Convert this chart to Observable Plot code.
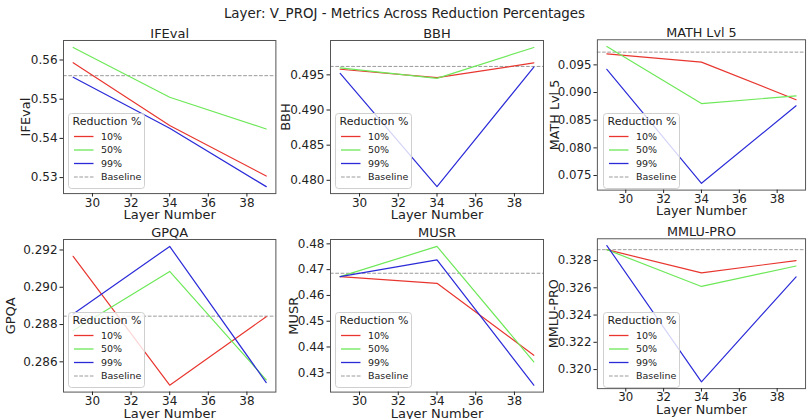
<!DOCTYPE html>
<html><head><meta charset="utf-8">
<script src="https://cdn.jsdelivr.net/npm/d3@7"></script>
<script src="https://cdn.jsdelivr.net/npm/@observablehq/plot@0.6"></script>
<style>
body{margin:0;background:#fff;font-family:"DejaVu Sans",sans-serif;}
#root{position:relative;width:809px;height:419px;overflow:hidden;background:#fff;}
.panel{position:absolute;}
#title{position:absolute;left:0;width:809px;top:5px;line-height:18px;text-align:center;font-size:13.4px;color:#222;}
.legend{position:absolute;}
</style></head><body>
<div id="root"><div id="title">Layer: V_PROJ - Metrics Across Reduction Percentages</div></div>
<script>
const layers = [29, 34, 39];
const reductions = ["10%", "50%", "99%"];
const seriesColors = ["#e8362f", "#6de858", "#2a2ad8"];
const metricNames = ["IFEval", "BBH", "MATH Lvl 5", "GPQA", "MUSR", "MMLU-PRO"];

// values per metric: rows = reductions (10%, 50%, 99%), columns = layers
const ifevalValues = [[0.5593, 0.5433, 0.5304], [0.5632, 0.5505, 0.5424], [0.5556, 0.5426, 0.5277]];
const bbhValues    = [[0.4958, 0.4946, 0.4967], [0.4960, 0.4945, 0.4989], [0.4952, 0.4791, 0.4961]];
const mathValues   = [[0.0970, 0.0955, 0.0887], [0.0983, 0.0880, 0.0894], [0.0942, 0.0736, 0.0876]];
const gpqaValues   = [[0.29166, 0.28475, 0.28842], [0.28768, 0.29085, 0.28503], [0.28856, 0.29219, 0.28489]];
const musrValues   = [[0.4673, 0.4647, 0.4368], [0.4673, 0.4790, 0.4342], [0.4673, 0.4738, 0.4252]];
const mmluValues   = [[0.3288, 0.3271, 0.3280], [0.3288, 0.3261, 0.3276], [0.3291, 0.3191, 0.3268]];
const baselineValues = [0.5560, 0.4962, 0.0973, 0.28845, 0.4686, 0.3288];

const xTicks = [30, 32, 34, 36, 38];
const yTicksIFEval = [0.53, 0.54, 0.55, 0.56];
const yTicksBBH = [0.480, 0.485, 0.490, 0.495];
const yTicksMATH = [0.075, 0.080, 0.085, 0.090, 0.095];
const yTicksGPQA = [0.286, 0.288, 0.290, 0.292];
const yTicksMUSR = [0.43, 0.44, 0.45, 0.46, 0.47, 0.48];
const yTicksMMLU = [0.320, 0.322, 0.324, 0.326, 0.328];
const yTickFormats = [".2f", ".3f", ".3f", ".3f", ".2f", ".3f"];
const legendLabels = ["10%", "50%", "99%", "Baseline"];

const allValues = [ifevalValues, bbhValues, mathValues, gpqaValues, musrValues, mmluValues];
const allYTicks = [yTicksIFEval, yTicksBBH, yTicksMATH, yTicksGPQA, yTicksMUSR, yTicksMMLU];

// layout (pixels)
const colLeft = [63, 330, 598], colRight = [275.4, 543, 810];
const rowTop = [39.5, 238.7], rowBottom = [192.6, 391.3];
const yLabelOffset = [38, 45, 43, 53, 37, 44];
const ML = 62, MR = 4, MT = 40, MB = 28;

const root = document.getElementById("root");

metricNames.forEach((name, i) => {
  const col = i % 3, row = Math.floor(i / 3);
  const fl = colLeft[col], fr = colRight[col], ft = rowTop[row], fb = rowBottom[row];
  const vals = allValues[i];
  const rows = [];
  reductions.forEach((r, j) => layers.forEach((l, k) => rows.push({reduction: r, layer: l, value: vals[j][k]})));
  const ext = d3.extent(vals.flat().concat([baselineValues[i]]));
  const pad = (ext[1] - ext[0]) * 0.05;
  const xPad = (layers[layers.length - 1] - layers[0]) * 0.05;

  const chart = Plot.plot({
    width: ML + (fr - fl) + MR,
    height: MT + (fb - ft) + MB,
    marginLeft: ML, marginRight: MR, marginTop: MT, marginBottom: MB,
    style: {background: "transparent", fontFamily: "DejaVu Sans", fontSize: "12px", color: "#222", overflow: "visible"},
    x: {domain: [layers[0] - xPad, layers[layers.length - 1] + xPad]},
    y: {domain: [ext[0] - pad, ext[1] + pad]},
    color: {domain: reductions, range: seriesColors},
    marks: [
      Plot.ruleY([baselineValues[i]], {stroke: "#9a9a9a", strokeDasharray: "3.7,1.6", strokeWidth: 1}),
      Plot.line(rows, {x: "layer", y: "value", z: "reduction", stroke: "reduction", strokeWidth: 1.2}),
      Plot.frame({stroke: "#555", strokeWidth: 1}),
      Plot.axisX({ticks: xTicks, tickSize: 3.5, tickPadding: 1, fontSize: 12, label: null, tickFormat: d => String(d)}),
      Plot.axisY({ticks: allYTicks[i], tickSize: 3.5, tickPadding: 2.5, fontSize: 12, label: null, tickFormat: d3.format(yTickFormats[i])}),
      Plot.text([name], {text: d => d, frameAnchor: "top", dy: -7, lineAnchor: "middle", fontSize: 13, fill: "#222"}),
      Plot.text(["Layer Number"], {text: d => d, frameAnchor: "bottom", dy: 21.5, lineAnchor: "middle", fontSize: 13, fill: "#222"}),
      Plot.text([name], {text: d => d, frameAnchor: "left", textAnchor: "middle", dx: -yLabelOffset[i], rotate: -90, lineAnchor: "middle", fontSize: 13, fill: "#222"})
    ]
  });
  const wrap = document.createElement("div");
  wrap.className = "panel";
  wrap.style.left = (fl - ML) + "px";
  wrap.style.top = (ft - MT) + "px";
  wrap.appendChild(chart);
  root.appendChild(wrap);
});

// legends (drawn on top)
metricNames.forEach((name, i) => {
  const col = i % 3, row = Math.floor(i / 3);
  const fl = colLeft[col], fb = rowBottom[row];
  const LW = 77, LH = 76;
  const div = document.createElement("div");
  div.className = "legend";
  div.style.left = (fl + 4.5) + "px";
  div.style.top = (fb - 3.5 - LH) + "px";
  const svg = d3.create("svg").attr("width", LW).attr("height", LH)
    .style("font-family", "DejaVu Sans").style("display", "block");
  svg.append("rect").attr("x", 0.5).attr("y", 0.5).attr("width", LW - 1).attr("height", LH - 1)
    .attr("rx", 3).attr("fill", "white").attr("fill-opacity", 0.8).attr("stroke", "#cfcfcf");
  svg.append("text").attr("x", 4.5).attr("y", 8.5).attr("dy", "0.35em")
    .attr("font-size", 11).attr("fill", "#222").text("Reduction %");
  legendLabels.forEach((lab, j) => {
    const y = 23.5 + j * 13.5;
    const isBase = j === 3;
    svg.append("line").attr("x1", 6).attr("x2", 25.5).attr("y1", y).attr("y2", y)
      .attr("stroke", isBase ? "#9a9a9a" : seriesColors[j])
      .attr("stroke-width", isBase ? 1 : 1.3)
      .attr("stroke-dasharray", isBase ? "3.7,1.6" : null);
    svg.append("text").attr("x", 33).attr("y", y).attr("dy", "0.35em")
      .attr("font-size", 9.5).attr("fill", "#222").text(lab);
  });
  div.appendChild(svg.node());
  root.appendChild(div);
});
</script>
</body></html>
